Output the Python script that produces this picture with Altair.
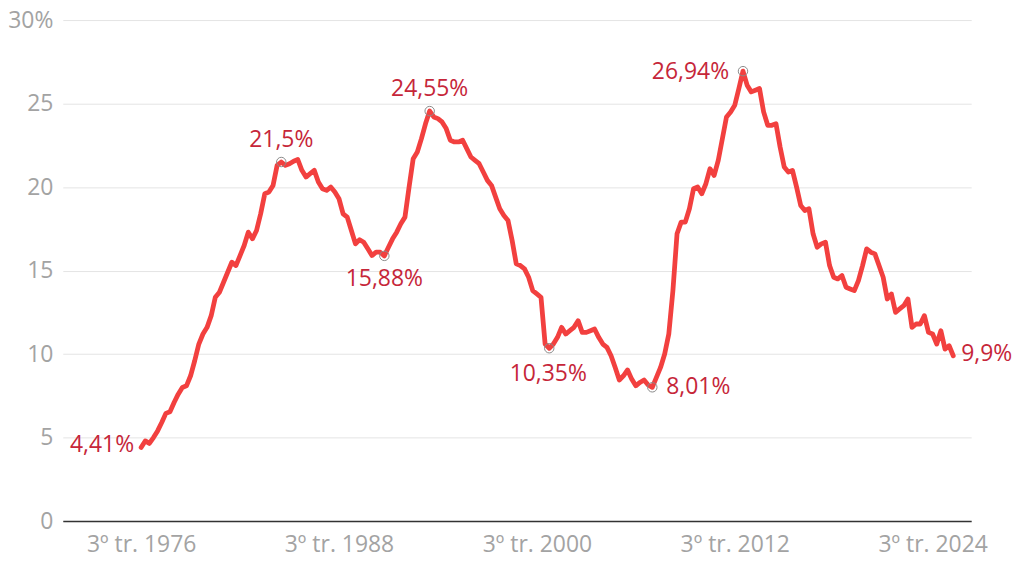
import altair as alt
import pandas as pd

# ---------------- data ----------------
start_year = 1976
start_quarter = 3
unemployment = [
    4.41, 4.80, 4.65, 5.00, 5.40, 5.90, 6.45, 6.55, 7.10, 7.60,
    8.00, 8.10, 8.70, 9.60, 10.60, 11.20, 11.60, 12.30, 13.40, 13.70,
    14.30, 14.90, 15.50, 15.30, 15.90, 16.50, 17.30, 16.90, 17.40, 18.40,
    19.60, 19.70, 20.10, 21.30, 21.50, 21.30, 21.40, 21.55, 21.65, 21.00,
    20.60, 20.80, 21.00, 20.30, 19.90, 19.80, 20.00, 19.70, 19.30, 18.40,
    18.20, 17.40, 16.60, 16.85, 16.70, 16.30, 15.90, 16.10, 16.10, 15.88,
    16.40, 16.90, 17.30, 17.80, 18.20, 20.00, 21.70, 22.10, 22.90, 23.80,
    24.55, 24.20, 24.10, 23.90, 23.50, 22.80, 22.70, 22.70, 22.80, 22.30,
    21.80, 21.60, 21.40, 20.90, 20.40, 20.10, 19.40, 18.70, 18.30, 18.00,
    16.80, 15.40, 15.30, 15.10, 14.60, 13.80, 13.60, 13.40, 10.60, 10.35,
    10.60, 11.00, 11.60, 11.20, 11.40, 11.60, 12.00, 11.30, 11.30, 11.40,
    11.50, 11.00, 10.60, 10.40, 9.90, 9.20, 8.45, 8.70, 9.05, 8.50,
    8.10, 8.30, 8.45, 8.15, 8.01, 8.60, 9.20, 10.00, 11.20, 13.80,
    17.20, 17.90, 17.90, 18.70, 19.90, 20.00, 19.60, 20.20, 21.10, 20.70,
    21.60, 22.90, 24.20, 24.50, 24.90, 25.90, 26.94, 26.10, 25.70, 25.80,
    25.90, 24.50, 23.70, 23.70, 23.80, 22.40, 21.20, 20.90, 21.00, 20.00,
    18.90, 18.60, 18.70, 17.20, 16.40, 16.60, 16.70, 15.30, 14.60, 14.50,
    14.70, 14.00, 13.90, 13.80, 14.40, 15.30, 16.30, 16.10, 16.00, 15.30,
    14.60, 13.30, 13.60, 12.50, 12.70, 12.90, 13.30, 11.60, 11.80, 11.80,
    12.30, 11.30, 11.20, 10.60, 11.40, 10.30, 10.50, 9.90,
]
tick_years = [1976, 1988, 2000, 2012, 2024]
tick_labels = ["3º tr. 1976", "3º tr. 1988", "3º tr. 2000", "3º tr. 2012", "3º tr. 2024"]
y_ticks = [0, 5, 10, 15, 20, 25, 30]

ann_index = [0, 34, 59, 70, 99, 124, 146, 197]
ann_text = ["4,41%", "21,5%", "15,88%", "24,55%", "10,35%", "8,01%", "26,94%", "9,9%"]

# ---------------- tables ----------------
periods = []
for i in range(len(unemployment)):
    q0 = start_quarter - 1 + i
    periods.append(f"{start_year + q0 // 4}T{q0 % 4 + 1}")
df = pd.DataFrame({"t": list(range(len(unemployment))), "periodo": periods, "tasa": unemployment})

ann = pd.DataFrame({
    "t": ann_index,
    "tasa": [unemployment[i] for i in ann_index],
    "label": ann_text,
})
# placement (style, not data)
placement = {"4,41%": "left", "21,5%": "above", "15,88%": "below", "24,55%": "above",
             "10,35%": "below2", "8,01%": "right", "26,94%": "left2", "9,9%": "right2"}
ann["pos"] = ann["label"].map(placement)
ann["circle"] = [0 < k < len(ann_index) - 1 for k in range(len(ann_index))]

tick_pos = [(y - start_year) * 4 for y in tick_years]
label_expr = " : ".join(
    f"datum.value == {p} ? '{l}'" for p, l in zip(tick_pos, tick_labels)
) + " : ''"

FONT = "Open Sans"
FS = 23
RED_TEXT = "#c62639"
RED_LINE = "#f2403f"
GREY = "#a3a3a3"

x = alt.X(
    "t:Q",
    scale=alt.Scale(domain=[-19.0, 201.35], nice=False, zero=False),
    axis=alt.Axis(
        values=tick_pos, labelExpr=label_expr, grid=False, ticks=False,
        domainColor="#333333", domainWidth=1.5, labelColor=GREY,
        labelFontSize=FS, labelFont=FONT, labelPadding=13, title=None,
        labelFlush=False,
    ),
)
y = alt.Y(
    "tasa:Q",
    scale=alt.Scale(domain=[0, 30], nice=False),
    axis=alt.Axis(
        values=y_ticks, labelExpr="datum.value == 30 ? '30%' : datum.label",
        domain=False, ticks=False, gridColor="#e4e4e4", gridWidth=1,
        labelColor=GREY, labelFontSize=FS, labelFont=FONT, labelPadding=10,
        title=None,
    ),
)

line = alt.Chart(df).mark_line(
    color=RED_LINE, strokeWidth=4.8, strokeJoin="round", strokeCap="round"
).encode(x=x, y=y)

circles = alt.Chart(ann).transform_filter("datum.circle").mark_point(
    shape="circle", filled=False, size=90, color="#8a8a8a", strokeWidth=1, opacity=1
).encode(x="t:Q", y="tasa:Q")

text_styles = {
    "left": dict(align="right", baseline="middle", dx=-7, dy=-2),
    "left2": dict(align="right", baseline="middle", dx=-14, dy=1),
    "right": dict(align="left", baseline="middle", dx=14, dy=0),
    "right2": dict(align="left", baseline="middle", dx=8, dy=-2),
    "above": dict(align="center", baseline="middle", dx=0, dy=-22),
    "below": dict(align="center", baseline="middle", dx=0, dy=23),
    "below2": dict(align="center", baseline="middle", dx=-1, dy=26),
}
text_layers = []
for pos, st in text_styles.items():
    text_layers.append(
        alt.Chart(ann).transform_filter(f"datum.pos == '{pos}'").mark_text(
            font=FONT, fontSize=FS, color=RED_TEXT, **st
        ).encode(x="t:Q", y="tasa:Q", text="label:N")
    )

chart = alt.layer(line, circles, *text_layers).properties(
    width=912, height=503,
    padding={"left": 55, "top": 11, "right": 45, "bottom": 45},
    autosize=alt.AutoSizeParams(type="none"),
).configure_view(stroke=None)

chart.save("out.html", embed_options={"renderer": "svg", "actions": False})
